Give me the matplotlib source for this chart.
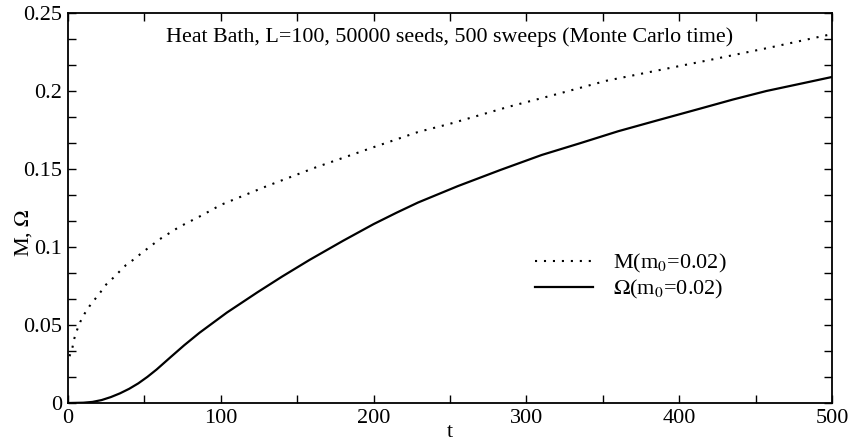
import matplotlib.pyplot as plt
from matplotlib.ticker import MultipleLocator

# M(m0=0.02), curva punteada
t_m = [1, 3, 4, 6, 8, 11, 14, 18, 22, 25, 30, 34, 38, 43, 48, 60, 73, 88, 100,
       130, 162, 200, 229, 250, 288, 320, 352, 390, 420, 460, 500]
m_vals = [0.030, 0.036, 0.041, 0.047, 0.052, 0.0575, 0.062, 0.067, 0.072, 0.076,
          0.0806, 0.0846, 0.0885, 0.092, 0.096, 0.105, 0.113, 0.1205, 0.127,
          0.139, 0.151, 0.164, 0.1737, 0.179, 0.1898, 0.198, 0.2065, 0.214,
          0.2199, 0.228, 0.2365]

# Omega(m0=0.02), curva continua
t_o = [0, 10, 16, 22, 28, 34, 40, 46, 52, 58, 67, 76, 86, 95, 104, 114, 124,
       140, 158, 180, 200, 215, 229, 255, 283, 310, 335, 360, 385, 414,
       435, 457, 480, 500]
o_vals = [0.0, 0.0002, 0.0007, 0.0019, 0.0038, 0.0062, 0.0091, 0.0126, 0.0168,
          0.0215, 0.0293, 0.037, 0.045, 0.0515, 0.058, 0.0645, 0.071, 0.081,
          0.0917, 0.104, 0.1147, 0.122, 0.1285, 0.139, 0.1494, 0.159, 0.1665,
          0.1742, 0.181, 0.1888, 0.1945, 0.2, 0.2048, 0.209]

plt.rcParams['font.family'] = ['Liberation Serif', 'DejaVu Serif']
plt.rcParams['mathtext.fontset'] = 'stix'

fig = plt.figure(figsize=(8.49, 4.48), dpi=100)
ax = fig.add_axes([0.0801, 0.1004, 0.9, 0.8706])

ax.plot(t_m, m_vals, color='black', linestyle=(0, (1, 3.3)), linewidth=1.5,
        label=r'M(m$_0$=0.02)')
ax.plot(t_o, o_vals, color='black', linewidth=1.6, label=r'$\Omega$(m$_0$=0.02)')

ax.set_xlim(0, 500)
ax.set_ylim(0, 0.25)
ax.xaxis.set_major_locator(MultipleLocator(100))
ax.xaxis.set_minor_locator(MultipleLocator(50))
ax.set_yticks([0, 0.05, 0.1, 0.15, 0.2, 0.25])
ax.set_yticklabels(['0', '0.05', '0.1', '0.15', '0.2', '0.25'])
ax.yaxis.set_minor_locator(MultipleLocator(0.05 / 3))

ax.tick_params(which='both', direction='in', top=True, right=True,
               length=5.5, width=1, labelsize=16)
ax.tick_params(axis='x', pad=4)
ax.tick_params(axis='y', pad=4)
for s in ax.spines.values():
    s.set_linewidth(1.3)

ax.set_xlabel('t', fontsize=16, labelpad=-3)
ax.set_ylabel(r'M, $\Omega$', fontsize=16)
ax.yaxis.set_label_coords(-0.044, 0.436)

ax.text(0.5, 0.938, 'Heat Bath, L=100, 50000 seeds, 500 sweeps (Monte Carlo time)',
        transform=ax.transAxes, ha='center', va='center', fontsize=15.8)

ax.legend(loc='upper left', bbox_to_anchor=(0.6, 0.41), frameon=False,
          fontsize=16, handlelength=2.6, handletextpad=0.9, labelspacing=0.15,
          borderaxespad=0)

fig.savefig('out.png', dpi=100)
